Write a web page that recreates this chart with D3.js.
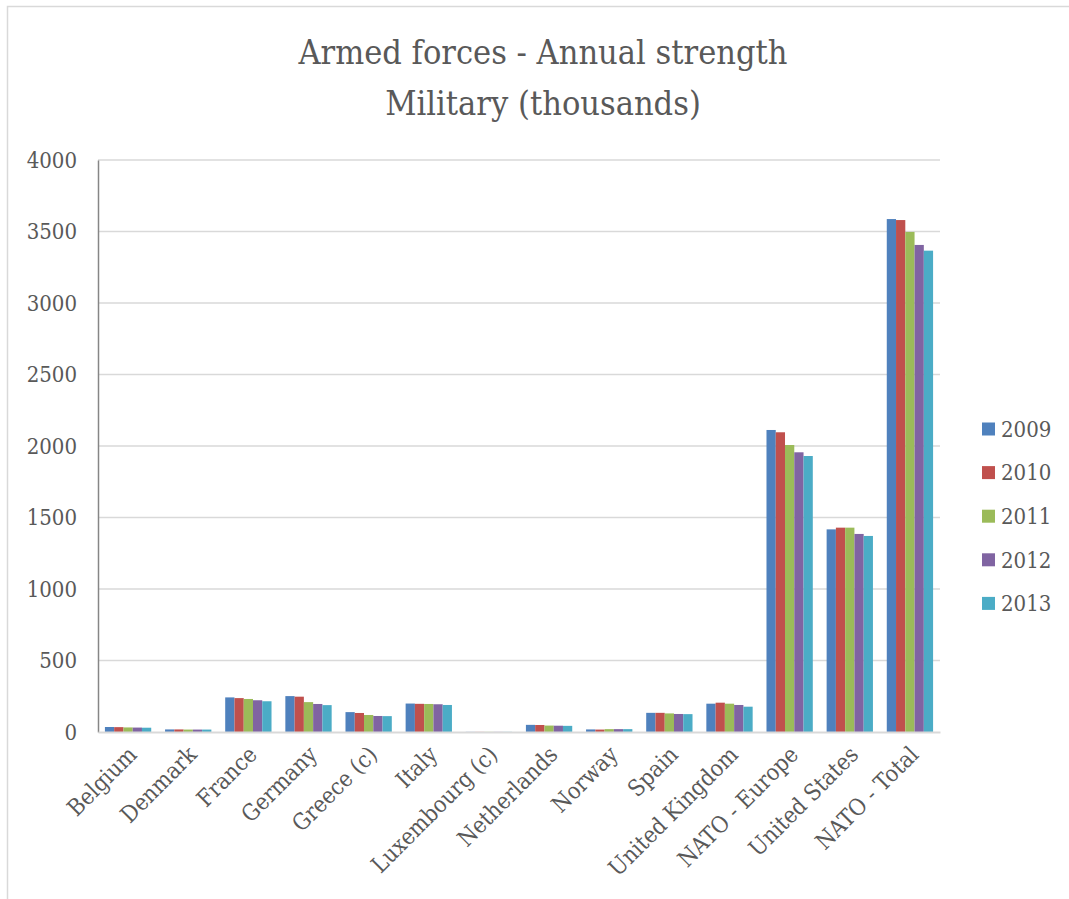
<!DOCTYPE html>
<html>
<head>
<meta charset="utf-8">
<script src="https://cdn.jsdelivr.net/npm/d3@7"></script>
<style>
  body { margin: 0; background: #fff; }
  svg text { font-family: "DejaVu Serif Condensed", "DejaVu Serif", serif; font-stretch: condensed; fill: #595959; }
</style>
</head>
<body>
<div id="chart"></div>
<script>
// categories and series (thousands)
const countries = ["Belgium", "Denmark", "France", "Germany", "Greece (c)", "Italy", "Luxembourg (c)",
  "Netherlands", "Norway", "Spain", "United Kingdom", "NATO - Europe", "United States", "NATO - Total"];
const years = ["2009", "2010", "2011", "2012", "2013"];
const v2009 = [35, 18, 242, 251, 139, 199, 1, 50, 18, 134, 198, 2112, 1417, 3587];
const v2010 = [34, 18, 237, 247, 133, 197, 1, 49, 17, 134, 205, 2096, 1429, 3580];
const v2011 = [32, 17, 231, 209, 119, 196, 1, 45, 20, 130, 198, 2007, 1429, 3497];
const v2012 = [31, 17, 222, 196, 112, 194, 1, 44, 20, 126, 189, 1956, 1385, 3406];
const v2013 = [30, 17, 215, 188, 111, 189, 1, 43, 20, 125, 177, 1930, 1371, 3366];
const series = [v2009, v2010, v2011, v2012, v2013];
const colors = ["#4F81BD", "#C0504D", "#9BBB59", "#8064A2", "#4BACC6"];
const yTicks = [0, 500, 1000, 1500, 2000, 2500, 3000, 3500, 4000];

const W = 1069, H = 899;
const svg = d3.select("#chart").append("svg").attr("width", W).attr("height", H);

// chart frame
svg.append("path").attr("d", "M7.5,899 V6.5 H1069")
  .attr("fill", "none").attr("stroke", "#d9d9d9").attr("stroke-width", 1.5);

// title
svg.append("text").attr("x", 543).attr("y", 64).attr("text-anchor", "middle")
  .style("font-size", "34px").text("Armed forces - Annual strength");
svg.append("text").attr("x", 543).attr("y", 115).attr("text-anchor", "middle")
  .style("font-size", "34px").text("Military (thousands)");

const plotL = 98, plotR = 940, plotT = 160, plotB = 732;
const y = d3.scaleLinear().domain([0, 4000]).range([plotB, plotT]);
const x = d3.scaleBand().domain(countries).range([plotL, plotR]).paddingInner(0.23).paddingOuter(0.115);
const xs = d3.scaleBand().domain(years).range([0, x.bandwidth()]);

// gridlines
svg.append("g").selectAll("line").data(yTicks.filter(d => d > 0)).enter().append("line")
  .attr("x1", plotL).attr("x2", plotR)
  .attr("y1", d => y(d)).attr("y2", d => y(d))
  .attr("stroke", "#d9d9d9").attr("stroke-width", 1.5);

// y axis
const yAxis = svg.append("g").attr("transform", `translate(${plotL},0)`)
  .call(d3.axisLeft(y).tickValues(yTicks).tickFormat(d3.format("d")).tickSize(0).tickPadding(21));
yAxis.select(".domain").attr("stroke", "#868686").attr("stroke-width", 1.5);
yAxis.selectAll("text").style("font-size", "22px").style("font-family", null);

// bars
series.forEach((vals, i) => {
  svg.append("g").selectAll("rect").data(vals).enter().append("rect")
    .attr("x", (d, j) => x(countries[j]) + xs(years[i]))
    .attr("y", d => y(d))
    .attr("width", xs.bandwidth())
    .attr("height", d => y(0) - y(d))
    .attr("fill", colors[i]);
});

// x axis
const xAxis = svg.append("g").attr("transform", `translate(0,${plotB})`)
  .call(d3.axisBottom(x).tickSize(0).tickPadding(0));
xAxis.select(".domain").attr("stroke", "#d9d9d9").attr("stroke-width", 2);
xAxis.selectAll("text")
  .style("font-size", "23px").style("font-family", null)
  .attr("text-anchor", "end")
  .attr("dy", null)
  .attr("transform", "translate(10,24) rotate(-45)");

// legend
const legend = svg.append("g");
years.forEach((yr, i) => {
  const cy = 429 + i * 43.6;
  legend.append("rect").attr("x", 982).attr("y", cy - 6.5).attr("width", 13).attr("height", 13).attr("fill", colors[i]);
  legend.append("text").attr("x", 1001).attr("y", cy).attr("dy", "0.35em")
    .style("font-size", "22px").text(yr);
});
</script>
</body>
</html>
